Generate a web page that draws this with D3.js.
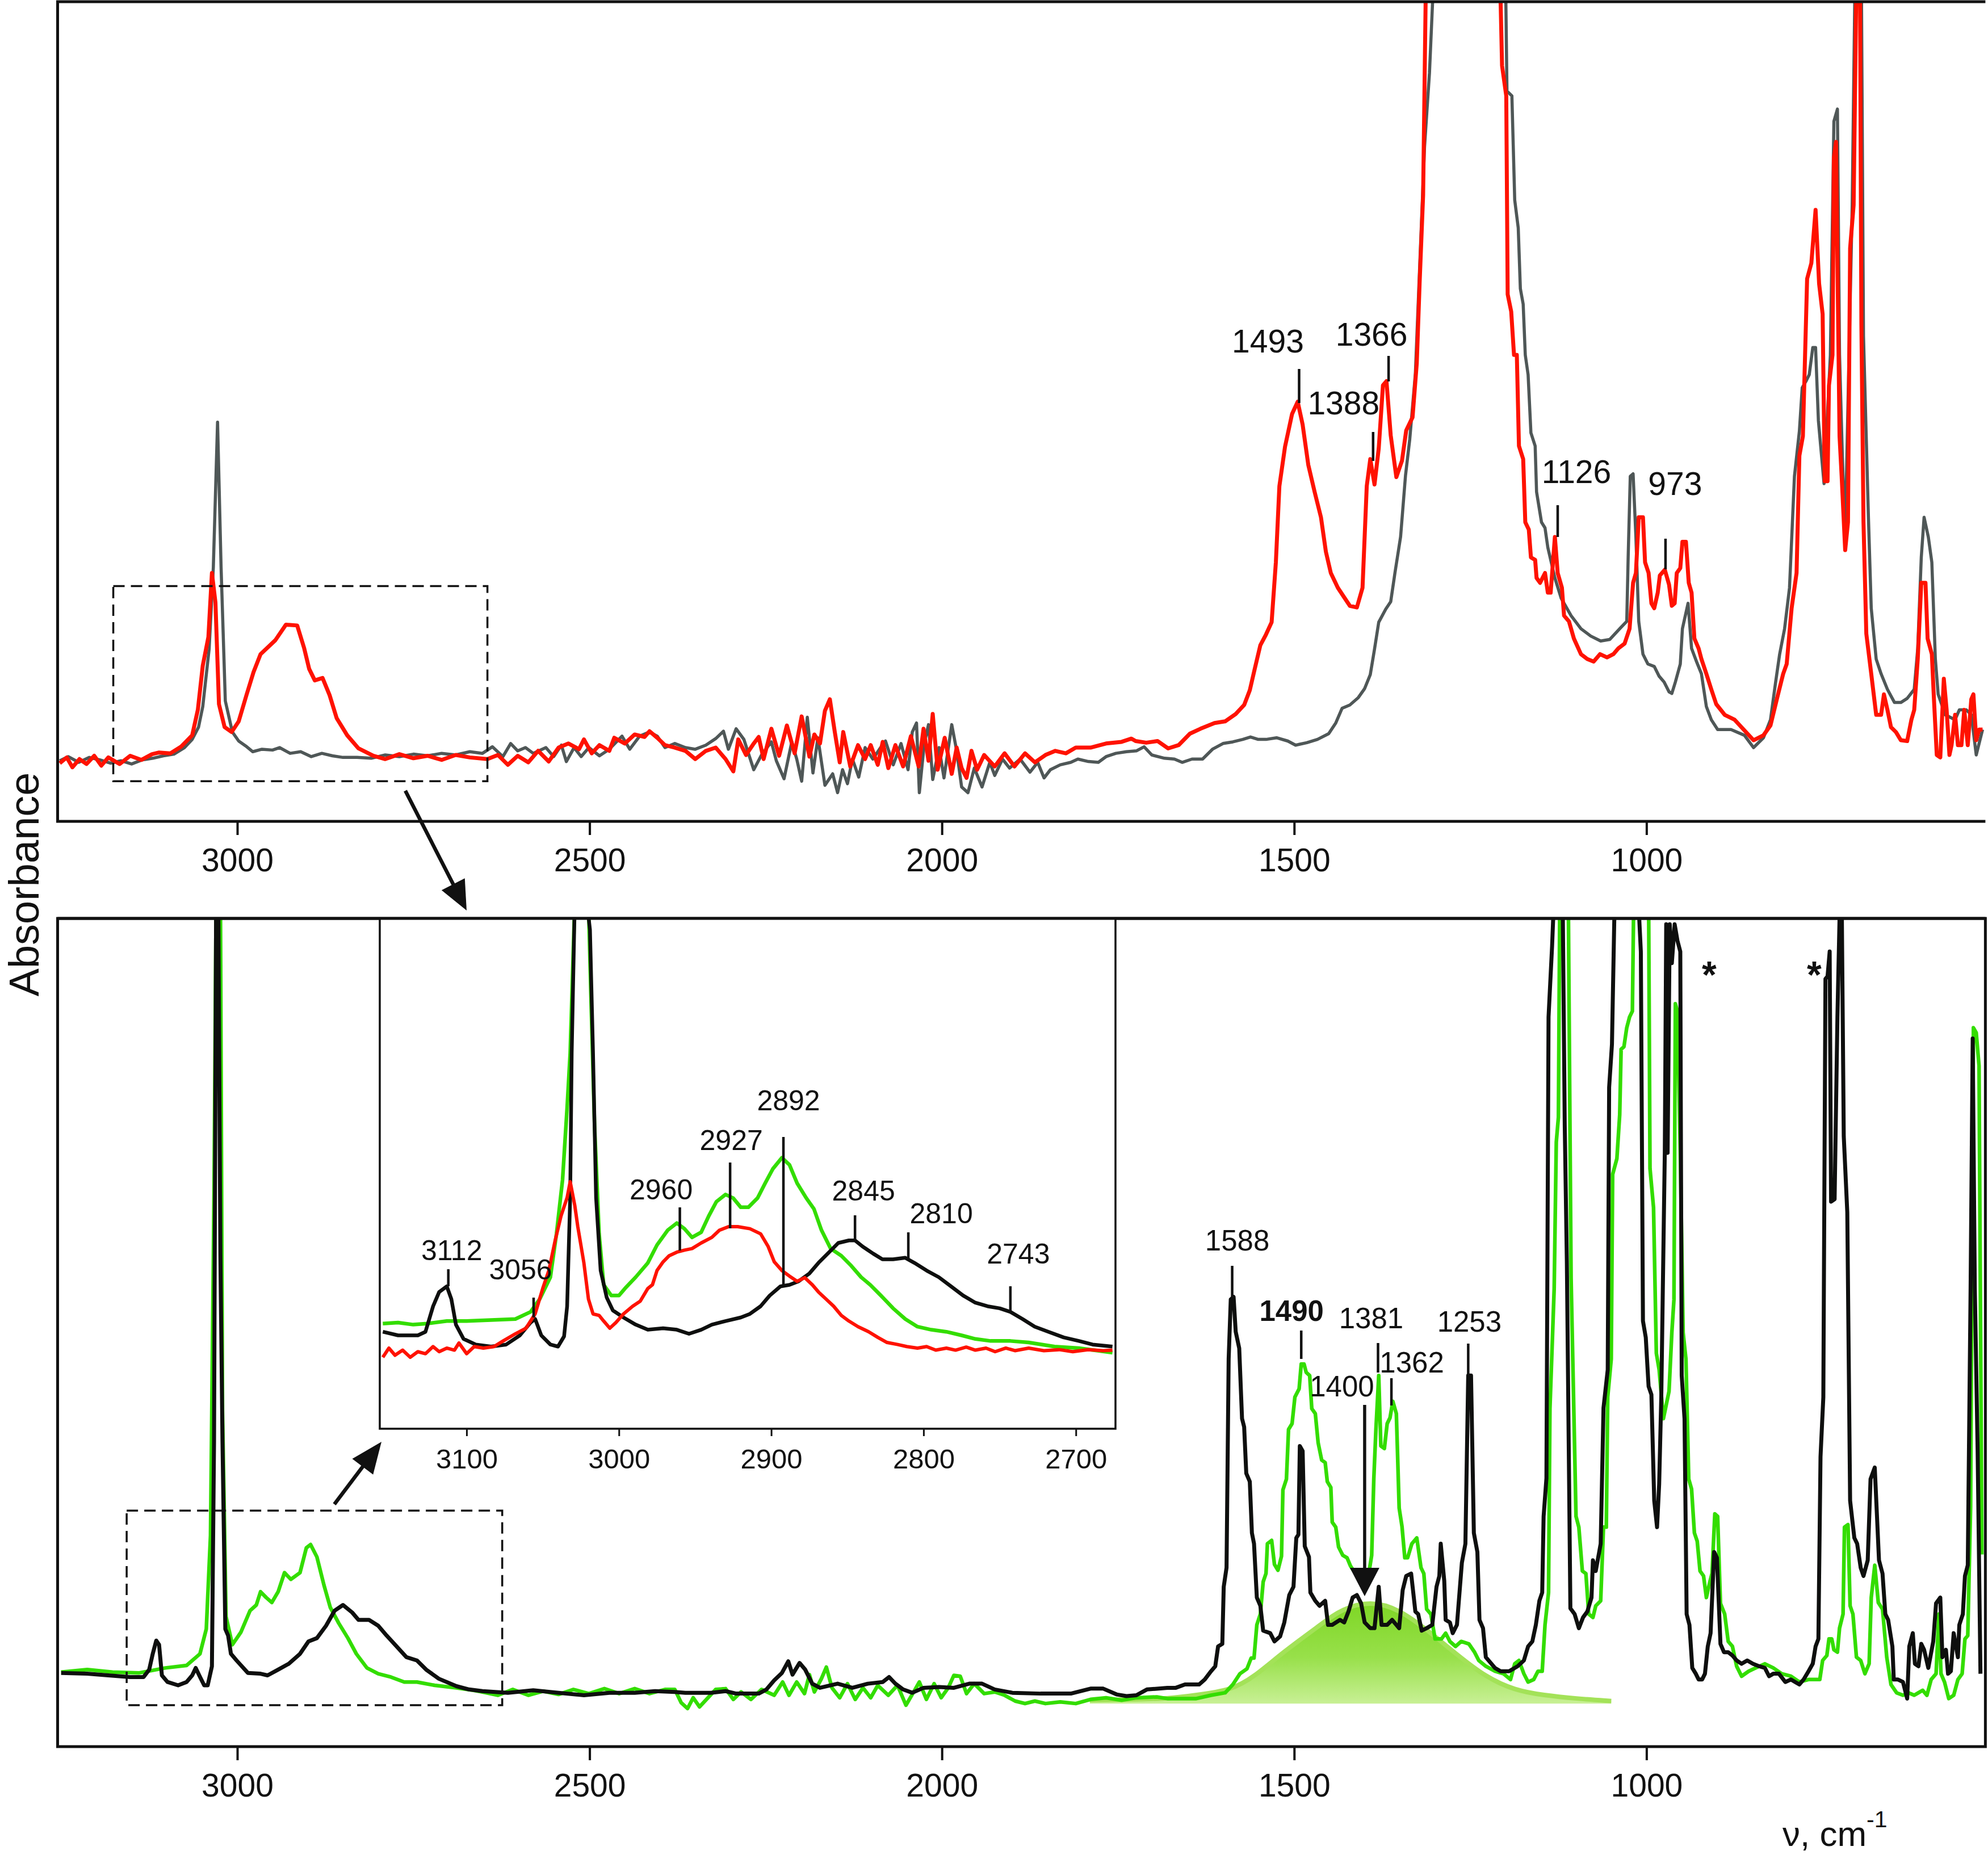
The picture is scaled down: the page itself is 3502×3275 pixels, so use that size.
<!DOCTYPE html>
<html><head><meta charset="utf-8">
<script src="https://cdn.jsdelivr.net/npm/d3@7"></script>
<style>
html,body{margin:0;padding:0;background:#fff;}
svg{display:block;}
text{font-family:"Liberation Sans",Arial,Helvetica,sans-serif;fill:#111;}
</style></head><body>
<svg id="chart" width="3502" height="3275"></svg>
<script>
// ---------------- DATA (wavenumber cm-1, absorbance a.u.) ----------------
const topGray = [[3252,0.074],[3240,0.079],[3225,0.072],[3210,0.078],[3195,0.075],[3180,0.071],[3165,0.074],[3150,0.070],[3135,0.075],[3120,0.077],[3105,0.080],[3090,0.082],[3075,0.090],[3064,0.100],[3055,0.115],[3049,0.140],[3040,0.210],[3034,0.310],[3028,0.487],[3023,0.310],[3017,0.147],[3007,0.109],[2998,0.098],[2988,0.092],[2978,0.085],[2965,0.088],[2950,0.087],[2940,0.090],[2925,0.083],[2910,0.085],[2895,0.079],[2880,0.083],[2865,0.080],[2850,0.078],[2830,0.078],[2810,0.077],[2790,0.081],[2770,0.079],[2750,0.082],[2730,0.080],[2710,0.083],[2690,0.081],[2670,0.085],
[2652,0.083],[2638,0.091],[2623,0.079],[2612,0.095],[2602,0.086],[2591,0.090],[2580,0.083],[2562,0.090],[2551,0.079],[2540,0.093],[2533,0.073],[2522,0.090],[2512,0.079],[2501,0.090],[2486,0.080],[2472,0.088],[2454,0.104],[2443,0.088],[2429,0.104],[2415,0.109],[2404,0.104],[2393,0.090],[2379,0.095],[2364,0.090],[2350,0.088],[2335,0.093],[2321,0.101],[2310,0.110],[2303,0.088],[2292,0.113],[2281,0.100],[2267,0.063],[2256,0.081],[2242,0.097],[2235,0.074],[2224,0.052],[2213,0.097],[2206,0.076],[2199,0.049],[2191,0.127],[2183,0.059],[2176,0.102],[2166,0.044],[2155,0.058],[2148,0.035],[2141,0.063],[2134,0.046],[2127,0.076],[2118,0.054],[2109,0.090],[2098,0.076],[2087,0.090],[2080,0.098],[2069,0.069],[2058,0.095],[2048,0.063],[2042,0.109],[2036,0.120],[2032,0.035],[2025,0.095],[2019,0.118],[2013,0.051],[2004,0.090],[1997,0.053],[1986,0.118],[1979,0.086],[1972,0.042],[1963,0.035],[1954,0.065],[1943,0.042],[1932,0.072],[1925,0.056],[1914,0.076],[1904,0.065],[1889,0.076],[1875,0.060],[1864,0.072],[1855,0.053],[1846,0.063],[1832,0.069],[1817,0.072],[1807,0.076],[1792,0.073],[1778,0.072],[1767,0.079],[1753,0.083],[1738,0.085],[1724,0.086],[1713,0.091],[1702,0.081],[1684,0.077],[1670,0.076],[1659,0.072],[1645,0.076],[1630,0.076],[1616,0.088],[1601,0.095],[1587,0.097],[1573,0.100],[1562,0.103],[1551,0.100],
[1540,0.100],[1525,0.102],[1509,0.098],[1498,0.093],[1482,0.096],[1467,0.100],[1451,0.107],[1441,0.120],[1432,0.138],[1421,0.142],[1409,0.151],[1400,0.162],[1392,0.179],[1386,0.210],[1380,0.243],[1370,0.259],[1363,0.268],[1357,0.303],[1349,0.347],[1342,0.422],[1336,0.466],[1328,0.546],[1315,0.823],[1308,0.913],[1302,1.03],[1200,1.03],
[1198,0.891],[1191,0.885],[1187,0.758],[1182,0.724],[1179,0.650],[1175,0.631],[1172,0.569],[1168,0.545],[1164,0.474],[1158,0.458],[1156,0.402],[1149,0.365],[1144,0.358],[1140,0.334],[1130,0.297],[1121,0.272],[1107,0.251],[1093,0.235],[1079,0.226],[1065,0.220],[1052,0.222],[1038,0.235],[1028,0.244],[1026,0.322],[1023,0.421],[1019,0.424],[1015,0.347],[1011,0.244],[1005,0.204],[998,0.192],[989,0.189],[982,0.177],[975,0.170],[968,0.158],[964,0.156],[959,0.170],[952,0.192],[949,0.235],[941,0.266],[936,0.211],[929,0.195],[922,0.180],[915,0.140],[908,0.124],[899,0.112],[880,0.112],[861,0.105],[848,0.090],[834,0.102],[824,0.124],[817,0.168],[811,0.204],[804,0.235],[797,0.285],[790,0.421],[783,0.476],[779,0.529],[773,0.538],[769,0.545],[764,0.578],[760,0.578],[756,0.489],[748,0.412],[739,0.569],[734,0.854],[729,0.869],[726,0.569],[722,0.445],[718,0.347],[708,0.752],[704,1.03],[695,1.03],[692,0.592],[685,0.371],[681,0.260],[674,0.198],[667,0.180],[658,0.161],[648,0.145],[639,0.145],[630,0.150],[620,0.161],[615,0.211],[610,0.322],[606,0.371],[600,0.347],[595,0.316],[590,0.198],[586,0.155],[576,0.130],[562,0.124],[556,0.136],[546,0.136],[539,0.130],[532,0.081],[523,0.112]];

const topRed = [[3252,0.071],[3242,0.078],[3234,0.066],[3224,0.076],[3214,0.070],[3203,0.080],[3193,0.068],[3183,0.078],[3167,0.070],[3152,0.080],[3136,0.075],[3121,0.082],[3111,0.084],[3095,0.083],[3080,0.091],[3064,0.105],[3056,0.136],[3049,0.190],[3041,0.225],[3036,0.303],[3031,0.267],[3026,0.143],[3018,0.115],[3008,0.109],[2998,0.122],[2987,0.154],[2977,0.182],[2967,0.204],[2946,0.221],[2931,0.240],[2915,0.239],[2905,0.211],[2898,0.186],[2890,0.172],[2879,0.175],[2869,0.154],[2859,0.126],[2844,0.105],[2828,0.089],[2807,0.080],[2790,0.076],[2770,0.082],[2750,0.077],[2730,0.080],[2710,0.075],[2690,0.081],[2670,0.078],
[2645,0.076],[2630,0.081],[2616,0.069],[2602,0.080],[2587,0.072],[2573,0.086],[2558,0.073],[2544,0.090],[2530,0.095],[2515,0.088],[2508,0.100],[2497,0.083],[2486,0.093],[2472,0.086],[2465,0.102],[2450,0.095],[2436,0.106],[2422,0.103],[2415,0.110],[2404,0.102],[2393,0.093],[2379,0.090],[2364,0.086],[2350,0.076],[2335,0.086],[2321,0.090],[2307,0.076],[2296,0.061],[2289,0.100],[2278,0.081],[2267,0.095],[2260,0.103],[2253,0.076],[2242,0.113],[2231,0.080],[2220,0.117],[2209,0.083],[2199,0.128],[2188,0.079],[2181,0.106],[2173,0.095],[2166,0.135],[2159,0.149],[2152,0.109],[2145,0.072],[2140,0.109],[2130,0.067],[2119,0.093],[2109,0.076],[2101,0.093],[2091,0.069],[2084,0.097],[2076,0.065],[2066,0.093],[2055,0.067],[2044,0.104],[2033,0.067],[2026,0.113],[2019,0.074],[2013,0.131],[2006,0.063],[1996,0.102],[1986,0.058],[1979,0.090],[1972,0.065],[1965,0.053],[1958,0.086],[1950,0.063],[1940,0.081],[1925,0.067],[1911,0.083],[1897,0.067],[1882,0.083],[1868,0.072],[1853,0.081],[1839,0.086],[1824,0.083],[1810,0.090],[1789,0.090],[1767,0.095],[1745,0.097],[1731,0.101],
[1725,0.098],[1710,0.096],[1694,0.098],[1679,0.089],[1664,0.093],[1648,0.107],[1633,0.113],[1613,0.120],[1598,0.122],[1583,0.131],[1571,0.142],[1563,0.160],[1556,0.186],[1548,0.215],[1540,0.228],[1532,0.243],[1526,0.316],[1521,0.409],[1513,0.457],[1503,0.497],[1495,0.512],[1488,0.484],[1480,0.435],[1471,0.402],[1462,0.371],[1455,0.329],[1448,0.303],[1438,0.285],[1428,0.272],[1421,0.263],[1411,0.261],[1403,0.285],[1397,0.409],[1392,0.442],[1386,0.411],[1380,0.455],[1374,0.532],[1369,0.537],[1363,0.471],[1355,0.420],[1347,0.440],[1341,0.477],[1332,0.493],[1326,0.559],[1322,0.656],[1317,0.764],[1313,1.03],[1209,1.03],
[1207,1.0],[1205,0.922],[1199,0.885],[1197,0.643],[1192,0.622],[1188,0.569],[1184,0.569],[1181,0.458],[1175,0.442],[1172,0.365],[1167,0.356],[1164,0.322],[1158,0.319],[1156,0.297],[1151,0.291],[1144,0.303],[1140,0.279],[1136,0.279],[1130,0.347],[1126,0.303],[1120,0.285],[1117,0.251],[1110,0.244],[1103,0.223],[1093,0.204],[1084,0.198],[1075,0.195],[1066,0.204],[1056,0.200],[1047,0.204],[1040,0.211],[1031,0.217],[1024,0.235],[1019,0.291],[1015,0.303],[1011,0.371],[1005,0.371],[1002,0.316],[997,0.303],[993,0.266],[989,0.260],[984,0.279],[981,0.300],[974,0.307],[968,0.289],[964,0.263],[960,0.266],[957,0.303],[952,0.309],[949,0.341],[944,0.341],[940,0.291],[936,0.279],[932,0.223],[926,0.211],[922,0.198],[915,0.180],[908,0.161],[901,0.143],[889,0.130],[875,0.124],[862,0.112],[848,0.099],[834,0.105],[824,0.117],[815,0.149],[806,0.180],[801,0.192],[794,0.260],[787,0.303],[783,0.446],[778,0.470],[772,0.662],[766,0.681],[760,0.746],[755,0.656],[750,0.619],[747,0.415],[743,0.415],[741,0.532],[736,0.569],[734,0.810],[731,0.829],[726,0.470],[723,0.421],[718,0.331],[714,0.365],[711,0.699],[706,0.752],[702,1.03],[697,1.03],[695,0.607],[692,0.365],[688,0.229],[681,0.180],[674,0.130],[667,0.130],[663,0.155],[658,0.136],[653,0.115],[646,0.109],[639,0.099],[630,0.098],[624,0.124],[620,0.136],[615,0.198],[610,0.291],[604,0.291],[601,0.223],[595,0.204],[592,0.149],[588,0.081],[583,0.078],[578,0.174],[574,0.136],[570,0.081],[567,0.093],[562,0.130],[558,0.093],[553,0.093],[549,0.136],[544,0.093],[539,0.149],[536,0.155],[532,0.099],[528,0.112],[523,0.112]];

const botBlack = [[3250,0.089],[3213,0.088],[3183,0.086],[3152,0.084],[3133,0.084],[3125,0.093],[3120,0.112],[3115,0.128],[3111,0.123],[3107,0.086],[3099,0.078],[3084,0.074],[3072,0.078],[3064,0.086],[3059,0.095],[3054,0.086],[3047,0.074],[3042,0.074],[3036,0.097],[3033,0.368],[3030,1.03],[3027,1.03],[3024,0.594],[3021,0.368],[3017,0.142],[3013,0.134],[3009,0.112],[3001,0.104],[2985,0.089],[2967,0.088],[2957,0.086],[2942,0.093],[2927,0.100],[2911,0.112],[2899,0.127],[2887,0.131],[2874,0.146],[2862,0.164],[2850,0.171],[2837,0.162],[2828,0.153],[2813,0.153],[2800,0.146],[2788,0.134],[2776,0.123],[2760,0.108],[2745,0.104],[2732,0.093],[2714,0.082],[2689,0.073],[2671,0.069],
[2652,0.067],[2616,0.065],[2580,0.068],[2544,0.065],[2508,0.062],[2472,0.065],[2436,0.065],[2407,0.067],[2379,0.066],[2364,0.065],[2328,0.065],[2307,0.067],[2292,0.064],[2260,0.064],[2249,0.069],[2238,0.080],[2227,0.089],[2218,0.103],[2212,0.087],[2202,0.101],[2194,0.093],[2184,0.076],[2173,0.071],[2148,0.076],[2127,0.071],[2105,0.076],[2084,0.078],[2075,0.084],[2066,0.076],[2055,0.069],[2042,0.065],[2026,0.071],[2004,0.072],[1983,0.071],[1961,0.076],[1943,0.076],[1925,0.069],[1900,0.065],[1860,0.064],[1817,0.064],[1789,0.070],[1771,0.070],[1752,0.063],[1738,0.061],[1724,0.062],[1709,0.069],
[1680,0.071],[1668,0.071],[1655,0.075],[1635,0.075],[1627,0.081],[1618,0.091],[1612,0.097],[1608,0.121],[1602,0.124],[1600,0.193],[1596,0.216],[1593,0.468],[1590,0.540],[1586,0.543],[1583,0.501],[1578,0.481],[1574,0.396],[1571,0.386],[1568,0.330],[1563,0.320],[1560,0.258],[1557,0.245],[1553,0.180],[1548,0.170],[1544,0.140],[1534,0.137],[1528,0.127],[1520,0.133],[1514,0.150],[1507,0.183],[1501,0.193],[1497,0.252],[1494,0.256],[1492,0.363],[1488,0.357],[1485,0.242],[1479,0.229],[1477,0.186],[1470,0.176],[1464,0.170],[1456,0.176],[1452,0.147],[1446,0.147],[1435,0.153],[1429,0.150],[1423,0.163],[1417,0.180],[1411,0.183],[1405,0.173],[1400,0.150],[1392,0.143],[1386,0.143],[1380,0.193],[1376,0.147],[1368,0.147],[1361,0.153],[1355,0.147],[1351,0.143],[1346,0.189],[1341,0.206],[1334,0.209],[1328,0.163],[1324,0.160],[1319,0.140],[1312,0.143],[1304,0.147],[1298,0.193],[1294,0.206],[1292,0.245],[1287,0.200],[1285,0.153],[1279,0.150],[1275,0.137],[1269,0.147],[1262,0.222],[1257,0.245],[1253,0.448],[1249,0.448],[1245,0.258],[1240,0.235],[1237,0.153],[1232,0.143],[1228,0.108],[1222,0.102],[1215,0.095],[1207,0.091],[1195,0.091],[1183,0.097],[1174,0.104],[1168,0.121],[1162,0.127],[1157,0.147],[1152,0.176],[1148,0.186],[1146,0.278],[1142,0.324],[1139,0.881],[1134,0.966],[1131,1.03],[1119,1.03],[1116,0.750],[1113,0.586],[1108,0.167],[1102,0.160],[1096,0.143],[1090,0.156],[1084,0.163],[1078,0.180],[1076,0.225],[1072,0.212],[1065,0.245],[1061,0.409],[1055,0.455],[1053,0.796],[1049,0.848],[1045,1.03],
[1012,1.03],[1008,0.96],[1005,0.514],[1001,0.494],[997,0.435],[993,0.425],[989,0.297],[985,0.265],[982,0.317],[979,0.422],[974,0.717],[972,0.993],[970,0.717],[967,0.993],[964,0.946],[960,0.993],[956,0.973],[952,0.960],[950,0.448],[946,0.396],[943,0.160],[939,0.147],[935,0.095],[930,0.088],[926,0.081],[921,0.081],[917,0.088],[913,0.121],[909,0.137],[904,0.235],[900,0.228],[895,0.124],[890,0.114],[884,0.114],[878,0.110],[872,0.104],[865,0.100],[857,0.104],[849,0.100],[840,0.097],[832,0.095],[826,0.085],[820,0.088],[812,0.088],[803,0.078],[795,0.081],[789,0.078],[783,0.075],[777,0.081],[770,0.091],[764,0.100],[760,0.121],[756,0.130],[753,0.350],[749,0.422],[746,0.927],[743,0.930],[740,0.960],[738,0.658],[733,0.661],[729,0.881],[726,1.0],[723,1.03],[720,0.737],[715,0.645],[711,0.297],[705,0.252],[701,0.245],[696,0.216],[692,0.206],[686,0.225],[682,0.323],[676,0.337],[670,0.225],[665,0.209],[661,0.160],[657,0.153],[651,0.121],[649,0.081],[643,0.081],[636,0.078],[630,0.058],[627,0.121],[622,0.137],[619,0.100],[614,0.097],[610,0.124],[606,0.117],[600,0.095],[593,0.127],[589,0.173],[583,0.180],[580,0.108],[575,0.117],[572,0.088],[568,0.091],[564,0.137],[558,0.108],[556,0.147],[551,0.160],[548,0.206],[544,0.219],[540,0.553],[537,0.855],[534,0.553],[530,0.357],[526,0.088]];

const botGreen = [[3250,0.090],[3213,0.093],[3177,0.090],[3139,0.089],[3102,0.095],[3072,0.098],[3053,0.112],[3044,0.142],[3038,0.255],[3033,0.670],[3030,1.03],[3024,1.03],[3021,0.406],[3016,0.157],[3007,0.123],[2995,0.138],[2982,0.164],[2973,0.171],[2967,0.187],[2959,0.180],[2951,0.174],[2942,0.187],[2933,0.210],[2924,0.202],[2911,0.210],[2902,0.240],[2896,0.244],[2887,0.229],[2877,0.195],[2868,0.168],[2856,0.149],[2843,0.131],[2831,0.112],[2816,0.095],[2800,0.088],[2782,0.084],[2763,0.078],[2745,0.078],[2720,0.074],[2689,0.071],[2665,0.068],
[2652,0.066],[2630,0.062],[2609,0.069],[2587,0.062],[2566,0.067],[2544,0.063],[2523,0.069],[2501,0.064],[2479,0.070],[2458,0.064],[2436,0.070],[2415,0.064],[2393,0.069],[2379,0.069],[2370,0.053],[2361,0.046],[2353,0.059],[2344,0.048],[2332,0.059],[2321,0.069],[2307,0.070],[2296,0.057],[2285,0.066],[2271,0.057],[2256,0.069],[2238,0.062],[2226,0.078],[2217,0.062],[2206,0.078],[2195,0.064],[2188,0.087],[2181,0.066],[2171,0.082],[2164,0.096],[2156,0.071],[2145,0.059],[2134,0.076],[2123,0.057],[2112,0.071],[2101,0.059],[2091,0.074],[2076,0.062],[2063,0.074],[2051,0.050],[2040,0.066],[2032,0.078],[2022,0.057],[2011,0.076],[2001,0.059],[1991,0.071],[1983,0.086],[1974,0.085],[1965,0.064],[1954,0.076],[1940,0.064],[1925,0.066],[1911,0.062],[1896,0.055],[1882,0.052],[1868,0.055],[1853,0.052],[1832,0.054],[1810,0.052],[1789,0.057],[1767,0.059],[1745,0.056],[1724,0.059],[1695,0.060],
[1680,0.058],[1659,0.058],[1639,0.058],[1618,0.062],[1598,0.065],[1587,0.075],[1577,0.088],[1567,0.094],[1561,0.107],[1557,0.107],[1553,0.147],[1548,0.160],[1544,0.199],[1540,0.209],[1538,0.245],[1532,0.249],[1528,0.220],[1523,0.213],[1518,0.230],[1516,0.310],[1511,0.323],[1508,0.383],[1503,0.390],[1499,0.422],[1493,0.432],[1490,0.462],[1486,0.462],[1483,0.452],[1478,0.448],[1475,0.408],[1470,0.402],[1466,0.367],[1461,0.346],[1456,0.343],[1453,0.320],[1448,0.313],[1446,0.271],[1441,0.265],[1437,0.241],[1431,0.231],[1425,0.228],[1420,0.218],[1413,0.209],[1405,0.199],[1396,0.199],[1390,0.231],[1387,0.323],[1384,0.383],[1380,0.448],[1377,0.363],[1372,0.360],[1368,0.390],[1364,0.397],[1360,0.417],[1355,0.402],[1351,0.288],[1347,0.266],[1343,0.228],[1339,0.228],[1333,0.245],[1326,0.252],[1320,0.216],[1316,0.209],[1312,0.166],[1306,0.160],[1300,0.130],[1291,0.130],[1285,0.137],[1279,0.127],[1271,0.121],[1263,0.127],[1252,0.124],[1244,0.114],[1238,0.104],[1228,0.097],[1215,0.091],[1203,0.088],[1193,0.081],[1187,0.100],[1181,0.104],[1174,0.088],[1168,0.078],[1160,0.081],[1154,0.091],[1148,0.091],[1144,0.147],[1139,0.186],[1137,0.408],[1131,0.553],[1128,0.730],[1125,0.760],[1123,1.03],[1111,1.03],[1107,0.566],[1100,0.278],[1096,0.265],[1091,0.212],[1086,0.209],[1082,0.160],[1076,0.156],[1072,0.170],[1065,0.176],[1061,0.265],[1057,0.265],
[1055,0.422],[1050,0.468],[1048,0.691],[1042,0.710],[1038,0.763],[1036,0.842],[1032,0.845],[1028,0.868],[1024,0.881],[1020,0.888],[1018,1.03],[997,1.03],[995,0.698],[990,0.651],[986,0.475],[982,0.455],[976,0.396],[968,0.429],[964,0.500],[961,0.540],[959,0.897],[956,0.888],[952,0.717],[948,0.500],[944,0.468],[940,0.323],[936,0.311],[932,0.258],[928,0.248],[924,0.212],[919,0.206],[915,0.180],[910,0.199],[907,0.209],[903,0.281],[899,0.278],[895,0.173],[889,0.160],[884,0.127],[878,0.121],[872,0.097],[865,0.085],[855,0.091],[845,0.095],[832,0.100],[820,0.095],[808,0.088],[795,0.085],[783,0.078],[770,0.081],[758,0.081],[754,0.081],[750,0.104],[744,0.110],[741,0.130],[737,0.130],[734,0.117],[729,0.114],[726,0.143],[721,0.160],[719,0.265],[714,0.268],[711,0.170],[707,0.160],[702,0.108],[696,0.104],[690,0.088],[684,0.100],[681,0.180],[676,0.219],[671,0.174],[665,0.166],[659,0.108],[653,0.075],[645,0.065],[636,0.062],[628,0.065],[620,0.062],[614,0.065],[608,0.068],[602,0.062],[596,0.081],[589,0.088],[585,0.160],[582,0.088],[577,0.078],[571,0.058],[564,0.062],[558,0.081],[552,0.088],[548,0.130],[544,0.134],[540,0.290],[536,0.868],[532,0.862],[528,0.822],[524,0.232]];

// fitted band under the 1400 cm-1 region
const bandBase = 0.052;
const bandTop = [[1790,0.056],[1720,0.057],[1680,0.058],[1640,0.062],[1590,0.068],[1557,0.084],[1516,0.114],[1458,0.150],[1433,0.166],[1392,0.176],[1351,0.166],[1310,0.140],[1269,0.111],[1228,0.084],[1187,0.068],[1146,0.062],[1100,0.058],[1050,0.055]];

// inset (2700-3150 cm-1)
const insetBlack = [[3155,0.190],[3145,0.183],[3132,0.183],[3127,0.190],[3122,0.240],[3118,0.268],[3113,0.279],[3110,0.254],[3107,0.204],[3102,0.176],[3094,0.165],[3084,0.161],[3074,0.165],[3065,0.183],[3058,0.208],[3055,0.215],[3051,0.183],[3045,0.165],[3040,0.161],[3036,0.181],[3034,0.240],[3032,0.453],[3031,0.736],[3029,1.03],[3021,1.03],[3019,0.978],[3017,0.736],[3015,0.453],[3012,0.310],[3008,0.257],[3004,0.232],[2997,0.218],[2989,0.204],[2981,0.194],[2971,0.197],[2962,0.194],[2954,0.186],[2946,0.194],[2939,0.204],[2930,0.211],[2920,0.218],[2914,0.225],[2907,0.240],[2901,0.261],[2894,0.279],[2888,0.282],[2882,0.289],[2875,0.304],[2869,0.325],[2862,0.346],[2856,0.364],[2849,0.369],[2845,0.369],[2840,0.357],[2833,0.343],[2827,0.332],[2820,0.332],[2812,0.335],[2806,0.325],[2798,0.310],[2790,0.297],[2782,0.279],[2774,0.261],[2766,0.247],[2758,0.240],[2750,0.236],[2743,0.229],[2735,0.215],[2727,0.200],[2718,0.190],[2708,0.179],[2698,0.172],[2689,0.165],[2676,0.161]];
const insetGreen = [[3155,0.206],[3145,0.208],[3135,0.204],[3126,0.206],[3113,0.211],[3100,0.211],[3084,0.213],[3068,0.215],[3058,0.229],[3052,0.254],[3045,0.297],[3041,0.382],[3037,0.488],[3034,0.630],[3032,0.736],[3029,1.03],[3020,1.03],[3018,0.807],[3016,0.594],[3013,0.382],[3010,0.282],[3005,0.261],[3000,0.261],[2996,0.275],[2989,0.297],[2981,0.325],[2975,0.360],[2968,0.389],[2962,0.403],[2957,0.392],[2952,0.375],[2946,0.385],[2941,0.417],[2936,0.445],[2930,0.459],[2925,0.452],[2920,0.434],[2915,0.434],[2909,0.452],[2904,0.481],[2899,0.509],[2893,0.531],[2888,0.517],[2883,0.481],[2877,0.452],[2872,0.431],[2867,0.389],[2861,0.353],[2854,0.339],[2848,0.321],[2841,0.297],[2835,0.282],[2828,0.261],[2820,0.236],[2812,0.215],[2804,0.200],[2795,0.194],[2785,0.190],[2775,0.183],[2766,0.176],[2756,0.172],[2743,0.172],[2731,0.169],[2714,0.161],[2698,0.158],[2676,0.149]];
const insetRed = [[3155,0.140],[3151,0.158],[3147,0.144],[3142,0.154],[3137,0.140],[3132,0.151],[3127,0.147],[3122,0.161],[3118,0.151],[3113,0.158],[3108,0.154],[3105,0.168],[3100,0.147],[3095,0.161],[3089,0.158],[3082,0.161],[3076,0.172],[3068,0.186],[3061,0.197],[3055,0.225],[3050,0.275],[3046,0.310],[3042,0.367],[3038,0.417],[3034,0.453],[3032,0.484],[3029,0.438],[3027,0.396],[3023,0.325],[3020,0.254],[3017,0.225],[3013,0.222],[3010,0.211],[3006,0.197],[3002,0.208],[2997,0.225],[2991,0.240],[2986,0.250],[2981,0.275],[2978,0.282],[2975,0.310],[2971,0.327],[2967,0.339],[2962,0.346],[2957,0.350],[2952,0.353],[2946,0.364],[2939,0.375],[2934,0.389],[2928,0.396],[2922,0.396],[2914,0.392],[2907,0.382],[2902,0.357],[2898,0.327],[2893,0.310],[2888,0.299],[2883,0.289],[2878,0.296],[2873,0.282],[2869,0.268],[2864,0.254],[2859,0.240],[2854,0.222],[2849,0.211],[2843,0.200],[2836,0.190],[2830,0.179],[2824,0.169],[2817,0.165],[2811,0.161],[2804,0.158],[2798,0.161],[2792,0.154],[2785,0.158],[2779,0.154],[2772,0.160],[2766,0.154],[2759,0.158],[2753,0.151],[2746,0.158],[2740,0.153],[2731,0.158],[2721,0.153],[2711,0.155],[2702,0.151],[2692,0.155],[2682,0.153],[2676,0.154]];

// axis ticks
const mainTicks = [3000, 2500, 2000, 1500, 1000];
const insetTicks = [3100, 3000, 2900, 2800, 2700];

// peak annotations
const topPeaks = [1493, 1388, 1366, 1126, 973];
const botPeaks = [1588, 1490, 1381, 1362, 1253];
const botBoldPeaks = [1490];
const arrowPeak = 1400;
const insetPeaks = [3112, 3056, 2960, 2927, 2892, 2845, 2810, 2743];
const starPeaks = [911, 762];

// ---------------- LAYOUT ----------------
const svg = d3.select("#chart");
const L = 101.5, R = 3497.4;
const T1 = 3, B1 = 1447, T2 = 1618, B2 = 3077;
const IL = 669, IR = 1965, IB = 2517;
const FONT = '"Liberation Sans", Arial, Helvetica, sans-serif';

const x = d3.scaleLinear().domain([3255, 519]).range([L, R]);
const yTop = d3.scaleLinear().domain([0, 1]).range([B1, T1]);
const yBot = d3.scaleLinear().domain([0, 1]).range([B2, T2]);
const xIn = d3.scaleLinear().domain([3157, 2674]).range([IL, IR]);
const yIn = d3.scaleLinear().domain([0, 1]).range([IB, T2]);

const defs = svg.append("defs");
function clip(id, x0, y0, w, h){
  defs.append("clipPath").attr("id", id).append("rect").attr("x", x0).attr("y", y0).attr("width", w).attr("height", h);
}
clip("cTop", L, T1, R - L, B1 - T1);
clip("cBot", L, T2, R - L, B2 - T2);
clip("cIn", IL, T2, IR - IL, IB - T2);

const grad = defs.append("linearGradient").attr("id", "gband")
  .attr("gradientUnits", "userSpaceOnUse")
  .attr("x1", 0).attr("x2", 0).attr("y1", yBot(0.176)).attr("y2", yBot(bandBase));
grad.append("stop").attr("offset", "0%").attr("stop-color", "#7dd624");
grad.append("stop").attr("offset", "55%").attr("stop-color", "#98e04a");
grad.append("stop").attr("offset", "100%").attr("stop-color", "#c8f095");

function drawLine(g, data, xs, ys, color, w){
  g.append("path").datum(data)
    .attr("d", d3.line().x(d => xs(d[0])).y(d => ys(d[1])))
    .attr("fill", "none").attr("stroke", color).attr("stroke-width", w)
    .attr("stroke-linejoin", "round").attr("stroke-linecap", "butt");
}

const GRAY = "#4f5757", RED = "#ff1200", BLACK = "#0e0f0e", GREEN = "#33dd00";

// ---------- top panel ----------
const gTop = svg.append("g").attr("clip-path", "url(#cTop)");
drawLine(gTop, topGray, x, yTop, GRAY, 5.5);
drawLine(gTop, topRed, x, yTop, RED, 7);

svg.append("rect")
  .attr("x", x(3176)).attr("y", yTop(0.287))
  .attr("width", x(2645) - x(3176)).attr("height", yTop(0.049) - yTop(0.287))
  .attr("fill", "none").attr("stroke", "#111").attr("stroke-width", 3.5).attr("stroke-dasharray", "20,11");

svg.append("path").attr("d", `M${R},${T1}H${L}V${B1}H${R}`)
  .attr("fill", "none").attr("stroke", "#111").attr("stroke-width", 5);

// ---------- bottom panel ----------
const gBot = svg.append("g").attr("clip-path", "url(#cBot)");
const bandArea = d3.area().x(d => x(d[0])).y0(yBot(bandBase)).y1(d => yBot(d[1])).curve(d3.curveBasis);
gBot.append("path").datum(bandTop).attr("d", bandArea).attr("fill", "url(#gband)");
gBot.append("path").datum(bandTop)
  .attr("d", d3.line().x(d => x(d[0])).y(d => yBot(d[1])).curve(d3.curveBasis))
  .attr("fill", "none").attr("stroke", "#a3e258").attr("stroke-width", 8);
drawLine(gBot, botGreen, x, yBot, GREEN, 6.5);
drawLine(gBot, botBlack, x, yBot, BLACK, 7);

svg.append("rect")
  .attr("x", x(3157)).attr("y", yBot(0.285))
  .attr("width", x(2624) - x(3157)).attr("height", yBot(0.05) - yBot(0.285))
  .attr("fill", "none").attr("stroke", "#111").attr("stroke-width", 3.5).attr("stroke-dasharray", "20,11");

svg.append("rect").attr("x", L).attr("y", T2).attr("width", R - L).attr("height", B2 - T2)
  .attr("fill", "none").attr("stroke", "#111").attr("stroke-width", 5);

// ---------- inset ----------
svg.append("rect").attr("x", IL).attr("y", T2).attr("width", IR - IL).attr("height", IB - T2)
  .attr("fill", "#fff").attr("stroke", "none");
const gIn = svg.append("g").attr("clip-path", "url(#cIn)");
drawLine(gIn, insetGreen, xIn, yIn, GREEN, 6.5);
drawLine(gIn, insetBlack, xIn, yIn, BLACK, 6.5);
drawLine(gIn, insetRed, xIn, yIn, RED, 6);
svg.append("path").attr("d", `M${IL},${T2}V${IB}H${IR}V${T2}`)
  .attr("fill", "none").attr("stroke", "#111").attr("stroke-width", 3.5);
svg.append("line").attr("x1", L).attr("x2", R).attr("y1", T2).attr("y2", T2)
  .attr("stroke", "#111").attr("stroke-width", 5);

// ---------- axes ----------
function styleAxis(g, fs){
  g.select(".domain").remove();
  g.selectAll(".tick line").attr("stroke", "#111").attr("stroke-width", 4);
  g.selectAll(".tick text").attr("font-size", fs).attr("font-family", FONT).attr("fill", "#111");
}
const axTop = svg.append("g").attr("transform", `translate(0,${B1})`)
  .call(d3.axisBottom(x).tickValues(mainTicks).tickSize(24).tickPadding(24).tickFormat(d3.format("d")));
styleAxis(axTop, 57);
const axBot = svg.append("g").attr("transform", `translate(0,${B2})`)
  .call(d3.axisBottom(x).tickValues(mainTicks).tickSize(24).tickPadding(24).tickFormat(d3.format("d")));
styleAxis(axBot, 57);
const axIn = svg.append("g").attr("transform", `translate(0,${IB})`)
  .call(d3.axisBottom(xIn).tickValues(insetTicks).tickSize(13).tickPadding(22).tickFormat(d3.format("d")));
styleAxis(axIn, 49);
axIn.selectAll(".tick line").attr("stroke-width", 3);

// ---------- annotations ----------
function peakLabel(xpos, txt, dx, base, y1, y2, fs, bold){
  svg.append("text").attr("x", xpos + dx).attr("y", base).attr("text-anchor", "middle")
    .attr("font-size", fs).attr("font-family", FONT).attr("font-weight", bold ? "bold" : "normal").text(txt);
  svg.append("line").attr("x1", xpos).attr("x2", xpos).attr("y1", y1).attr("y2", y2)
    .attr("stroke", "#111").attr("stroke-width", 4.5);
}
const topLay = [[-55, 621, 650, 710], [-52, 730, 761, 812], [-30, 609, 627, 672], [33, 851, 890, 946], [17, 872, 949, 1003]];
topPeaks.forEach((p, i) => peakLabel(x(p), String(p), ...topLay[i], 57, false));

const botLay = [[9, 2203, 2230, 2285], [-17, 2327, 2344, 2394], [-12, 2340, 2366, 2418], [36, 2418, 2428, 2476], [2, 2346, 2367, 2423]];
botPeaks.forEach((p, i) => peakLabel(x(p), String(p), ...botLay[i], 51, botBoldPeaks.includes(p)));

const inLay = [[6, 2220, 2236, 2266], [-23, 2254, 2286, 2321], [-33, 2113, 2127, 2203], [2, 2026, 2048, 2164], [9, 1956, 2003, 2263], [15, 2115, 2141, 2185], [58, 2155, 2171, 2217], [14, 2226, 2266, 2309]];
insetPeaks.forEach((p, i) => peakLabel(xIn(p), String(p), ...inLay[i], 50, false));

// 1400 arrow
const ax = x(arrowPeak);
svg.append("text").attr("x", ax - 40).attr("y", 2460).attr("text-anchor", "middle")
  .attr("font-size", 51).attr("font-family", FONT).text(String(arrowPeak));
svg.append("line").attr("x1", ax).attr("x2", ax).attr("y1", 2475).attr("y2", 2768)
  .attr("stroke", "#111").attr("stroke-width", 5.5);
svg.append("path").attr("d", `M${ax-26},2762L${ax+26},2762L${ax},2812Z`).attr("fill", "#111");

// asterisks
starPeaks.forEach(p => {
  svg.append("text").attr("x", x(p)).attr("y", 1740).attr("text-anchor", "middle")
    .attr("font-size", 66).attr("font-weight", "bold").attr("font-family", FONT).text("*");
});

// pointer arrows
function arrow(x1, y1, x2, y2, hl, hw, w){
  const dx = x2 - x1, dy = y2 - y1, len = Math.hypot(dx, dy);
  const ux = dx / len, uy = dy / len, px = -uy, py = ux;
  const bx = x2 - ux * hl, by = y2 - uy * hl;
  svg.append("line").attr("x1", x1).attr("y1", y1).attr("x2", bx + ux * 4).attr("y2", by + uy * 4)
    .attr("stroke", "#111").attr("stroke-width", w);
  svg.append("path").attr("d", `M${x2},${y2}L${bx + px*hw},${by + py*hw}L${bx - px*hw},${by - py*hw}Z`).attr("fill", "#111");
}
arrow(714, 1393, 822, 1604, 52, 23, 6.5);
arrow(589, 2650, 672, 2540, 55, 23, 6.5);

// axis titles
svg.append("text").attr("transform", "translate(68,1558) rotate(-90)").attr("text-anchor", "middle")
  .attr("font-size", 74).attr("font-family", FONT).text("Absorbance");
const xt = svg.append("text").attr("x", 3140).attr("y", 3252).attr("font-size", 62).attr("font-family", FONT);
xt.append("tspan").text("ν, cm");
xt.append("tspan").attr("dy", -33).attr("font-size", 41).text("-1");
</script>
</body></html>
